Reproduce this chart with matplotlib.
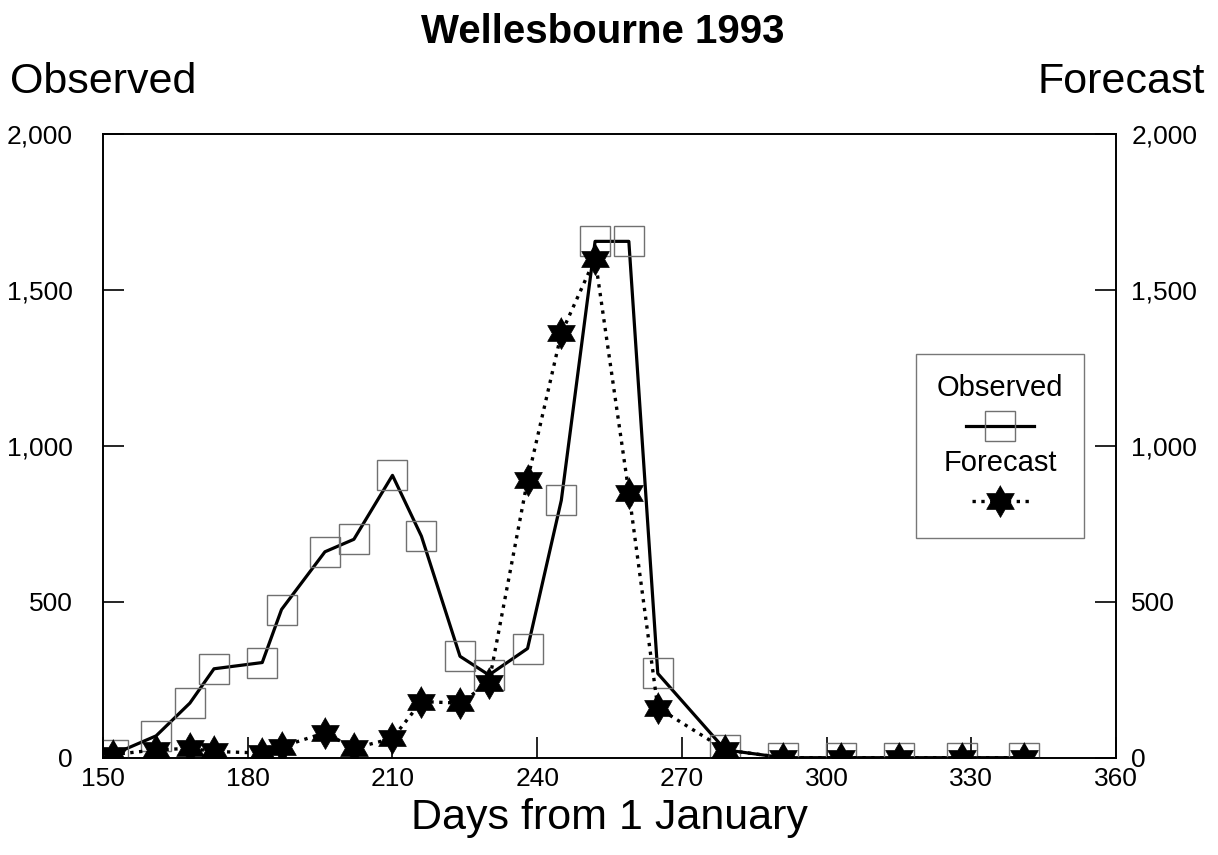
import matplotlib
matplotlib.use("Agg")
import matplotlib.pyplot as plt
import numpy as np
from matplotlib.lines import Line2D
from matplotlib.offsetbox import AnchoredOffsetbox, DrawingArea, TextArea, VPacker
from matplotlib.ticker import FuncFormatter

plt.rcParams["font.family"] = ["Liberation Sans", "DejaVu Sans"]

# sampling days and counts for both series
days = [152, 161, 168, 173, 183, 187, 196, 202, 210, 216, 224, 230,
        238, 245, 252, 259, 265, 279, 291, 303, 315, 328, 341]
observed = [10, 70, 175, 285, 305, 475, 660, 700, 905, 710, 325, 265,
            350, 825, 1655, 1655, 270, 25, 0, 0, 0, 0, 0]
forecast = [10, 25, 30, 20, 15, 35, 80, 30, 62, 180, 175, 240,
            890, 1360, 1600, 850, 160, 25, 0, 0, 0, 0, 0]
x_ticks = [150, 180, 210, 240, 270, 300, 330, 360]
y_ticks = [0, 500, 1000, 1500, 2000]

# six pointed star (two overlapping triangles)
ang = np.deg2rad(np.arange(12) * 30 + 90)
rad = np.where(np.arange(12) % 2 == 0, 1.0, 1 / np.sqrt(3))
hexagram = list(zip(rad * np.cos(ang), rad * np.sin(ang)))

obs_style = dict(color="black", lw=2.3, marker="s", ms=21, mfc="none",
                 mec="#707070", mew=1.0)
fc_style = dict(color="black", lw=2.4, ls=":", marker=hexagram, ms=23,
                mfc="black", mec="black", mew=0.5)

fig = plt.figure(figsize=(12.18, 8.55), dpi=100)
ax = fig.add_axes([0.0846, 0.1138, 0.8317, 0.7298])
ax.plot(days, observed, zorder=3, **obs_style)

axf = ax.twinx()
axf.plot(days, forecast, zorder=4, **fc_style)

comma = FuncFormatter(lambda v, p: "{:,.0f}".format(v))
for a in (ax, axf):
    a.set_xlim(150, 360)
    a.set_ylim(0, 2000)
    a.set_yticks(y_ticks)
    a.yaxis.set_major_formatter(comma)
    for s in a.spines.values():
        s.set_linewidth(1.2)
ax.set_xticks(x_ticks)
ax.tick_params(axis="x", direction="in", length=15, width=1.2, pad=7, labelsize=19)
ax.tick_params(axis="y", direction="in", length=15, width=1.2, pad=22, labelsize=19)
axf.tick_params(axis="y", direction="in", length=15, width=1.2, pad=11, labelsize=19)

ax.set_xlabel("Days from 1 January", fontsize=31, labelpad=5)
fig.text(0.495, 1 - 32 / 855, "Wellesbourne 1993", ha="center", va="center",
         fontsize=29, fontweight="bold")
fig.text(10 / 1218, 1 - 82 / 855, "Observed", ha="left", va="center", fontsize=31)
fig.text(1205 / 1218, 1 - 82 / 855, "Forecast", ha="right", va="center", fontsize=31)

# legend: labels stacked above their handles
def handle(width, style):
    da = DrawingArea(width, 24, 0, 0)
    line = Line2D([0, width], [12, 12], color=style["color"], lw=style["lw"],
                  ls=style["ls"] if "ls" in style else "-")
    mark = Line2D([width / 2], [12], ls="none", marker=style["marker"],
                  ms=style["ms"], mfc=style["mfc"], mec=style["mec"], mew=style["mew"])
    da.add_artist(line)
    da.add_artist(mark)
    return da

txt = dict(size=21)
pack = VPacker(children=[TextArea("Observed", textprops=txt), handle(49, obs_style),
                         TextArea("Forecast", textprops=txt), handle(41, fc_style)],
               align="center", pad=0, sep=5)
box = AnchoredOffsetbox(loc="center", child=pack, pad=0.7, borderpad=0, frameon=True,
                        prop=dict(size=21), bbox_to_anchor=(0.8855, 0.4995),
                        bbox_transform=ax.transAxes)
box.patch.set_edgecolor("#777777")
box.patch.set_linewidth(1.0)
axf.add_artist(box)

fig.savefig("out.png", dpi=100)
